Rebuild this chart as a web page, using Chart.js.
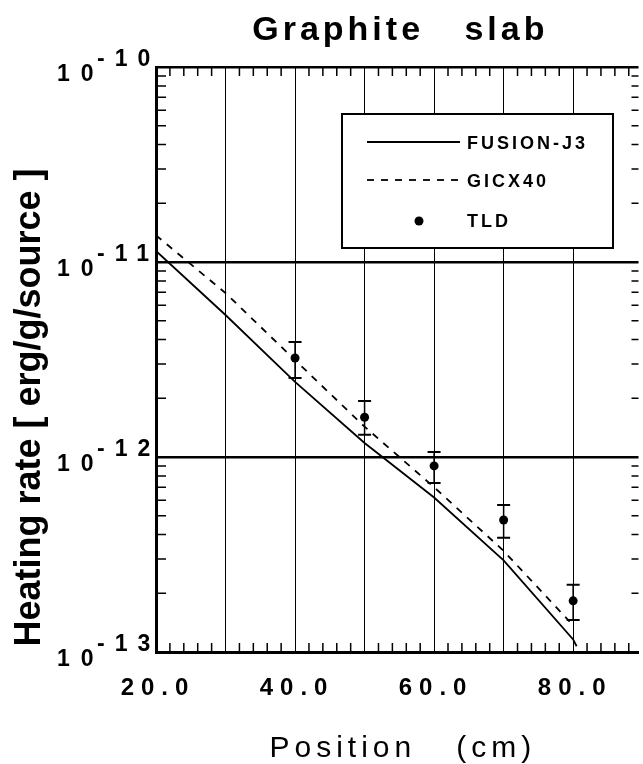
<!DOCTYPE html>
<html>
<head>
<meta charset="utf-8">
<title>Graphite slab</title>
<script src="https://cdn.jsdelivr.net/npm/chart.js@4"></script>
<style>
    html, body { margin: 0; padding: 0; background: #fff; }
    #box { width: 643px; height: 764px; position: relative; }
</style>
</head>
<body>
<div id="box"><canvas id="grafico"></canvas></div>
<script>
// Values (position in cm, heating rate in erg/g/source)
const fusionX = [20, 30, 40, 50, 60, 70, 80, 80.5];
const fusionY = [1.14e-11, 5.35e-12, 2.43e-12, 1.18e-12, 6.2e-13, 2.95e-13, 1.16e-13, 1.07e-13];

const gicxX = [20, 30, 40, 50, 60, 70, 79.5];
const gicxY = [1.37e-11, 6.93e-12, 3.14e-12, 1.43e-12, 7.0e-13, 3.3e-13, 1.43e-13];

const tldX = [40, 50, 60, 70, 80];
const tldY = [3.22e-12, 1.60e-12, 9.0e-13, 4.75e-13, 1.83e-13];
const tldHigh = [3.89e-12, 1.94e-12, 1.06e-12, 5.68e-13, 2.21e-13];
const tldLow = [2.54e-12, 1.30e-12, 7.36e-13, 3.85e-13, 1.46e-13];

const seriesLabels = ['FUSION-J3', 'GICX40', 'TLD'];

const xTickValues = [20, 40, 60, 80];
const xTickLabels = ['20.0', '40.0', '60.0', '80.0'];
const yDecades = [-10, -11, -12, -13];
const yTickLabels = ['-10', '-11', '-12', '-13'];

const FONT = '"Liberation Sans", Arial, Helvetica, sans-serif';

function pontos(xs, ys) {
    return xs.map((x, i) => ({ x: x, y: ys[i] }));
}

function isDecade(v) {
    const l = Math.log10(v);
    return Math.abs(l - Math.round(l)) < 1e-6;
}

// Error bars of the TLD measurements
function drawErrorBars(chart) {
    const ctx = chart.ctx;
    const xs = chart.scales.x;
    const ys = chart.scales.y;
    ctx.save();
    ctx.strokeStyle = '#000';
    tldX.forEach((x, i) => {
        const px = xs.getPixelForValue(x);
        const top = ys.getPixelForValue(tldHigh[i]);
        const bot = ys.getPixelForValue(tldLow[i]);
        ctx.lineWidth = 1.5;
        ctx.beginPath();
        ctx.moveTo(px, top);
        ctx.lineTo(px, bot);
        ctx.stroke();
        ctx.lineWidth = 2;
        ctx.beginPath();
        ctx.moveTo(px - 6.5, top);
        ctx.lineTo(px + 6.5, top);
        ctx.moveTo(px - 6.5, bot);
        ctx.lineTo(px + 6.5, bot);
        ctx.stroke();
    });
    ctx.restore();
}

// Small inward ticks on all four sides
function drawMinorTicks(chart) {
    const ctx = chart.ctx;
    const area = chart.chartArea;
    const xs = chart.scales.x;
    const ys = chart.scales.y;
    ctx.save();
    ctx.strokeStyle = '#000';
    ctx.lineWidth = 1.5;
    ctx.beginPath();
    for (let v = xs.min + 2; v < xs.max; v += 2) {
        if (v % 10 === 0) continue;
        const px = xs.getPixelForValue(v);
        ctx.moveTo(px, area.top);
        ctx.lineTo(px, area.top + 9);
        ctx.moveTo(px, area.bottom);
        ctx.lineTo(px, area.bottom - 9);
    }
    for (let k = -13; k < -10; k++) {
        for (let m = 2; m <= 9; m++) {
            const py = ys.getPixelForValue(m * Math.pow(10, k));
            ctx.moveTo(area.left, py);
            ctx.lineTo(area.left + 10, py);
            ctx.moveTo(area.right, py);
            ctx.lineTo(area.right - 7, py);
        }
    }
    ctx.stroke();
    ctx.restore();
}

// Tick labels, titles
function drawTexts(chart) {
    const ctx = chart.ctx;
    const area = chart.chartArea;
    const xs = chart.scales.x;
    const ys = chart.scales.y;
    const centro = (area.left + xs.getPixelForValue(90)) / 2;
    ctx.save();
    ctx.fillStyle = '#000';
    ctx.textBaseline = 'alphabetic';

    // x tick labels
    ctx.font = 'bold 24px ' + FONT;
    ctx.letterSpacing = '7px';
    ctx.textAlign = 'center';
    xTickValues.forEach((v, i) => {
        ctx.fillText(xTickLabels[i], xs.getPixelForValue(v) + 2, 695);
    });

    // y tick labels 10^-n
    ctx.textAlign = 'left';
    ctx.font = 'bold 23px ' + FONT;
    yDecades.forEach((d, i) => {
        const py = ys.getPixelForValue(Math.pow(10, d));
        ctx.letterSpacing = '11px';
        ctx.fillText('10', 57, py + 14);
        ctx.letterSpacing = '10px';
        ctx.fillText(yTickLabels[i], 97, py - 1);
    });

    // title
    ctx.font = 'bold 34px ' + FONT;
    ctx.letterSpacing = '4px';
    ctx.textAlign = 'center';
    ctx.fillText('Graphite   slab', centro + 1, 40);

    // x axis title
    ctx.font = '30px ' + FONT;
    ctx.letterSpacing = '5px';
    ctx.fillText('Position   (cm)', centro + 3.5, 757);

    // y axis title
    ctx.save();
    ctx.translate(40, (area.top + area.bottom) / 2 + 48);
    ctx.rotate(-Math.PI / 2);
    ctx.font = 'bold 36px ' + FONT;
    ctx.letterSpacing = '0px';
    ctx.fillText('Heating rate [ erg/g/source ]', 0, 0);
    ctx.restore();
    ctx.restore();
}

// Legend box drawn inside the plot
function drawLegendBox(chart) {
    const ctx = chart.ctx;
    ctx.save();
    ctx.fillStyle = '#fff';
    ctx.fillRect(342, 114, 271, 134);
    ctx.strokeStyle = '#000';
    ctx.lineWidth = 2;
    ctx.strokeRect(342, 114, 271, 134);

    ctx.lineWidth = 1.8;
    ctx.beginPath();
    ctx.moveTo(367, 142);
    ctx.lineTo(460, 142);
    ctx.stroke();

    ctx.setLineDash([7, 7]);
    ctx.beginPath();
    ctx.moveTo(367, 180);
    ctx.lineTo(458, 180);
    ctx.stroke();
    ctx.setLineDash([]);

    ctx.fillStyle = '#000';
    ctx.beginPath();
    ctx.arc(419, 221, 4.5, 0, Math.PI * 2);
    ctx.fill();

    ctx.font = 'bold 18px ' + FONT;
    ctx.letterSpacing = '3px';
    ctx.textAlign = 'left';
    ctx.fillText(seriesLabels[0], 467, 149);
    ctx.fillText(seriesLabels[1], 467, 187);
    ctx.fillText(seriesLabels[2], 467, 227);
    ctx.restore();
}

const decorPlugin = {
    id: 'decor',
    afterDatasetsDraw(chart) {
        drawErrorBars(chart);
    },
    afterDraw(chart) {
        drawMinorTicks(chart);
        drawTexts(chart);
        drawLegendBox(chart);
    }
};

function inicializarGrafico() {
    const ctx = document.getElementById('grafico');
    new Chart(ctx, {
        type: 'line',
        data: {
            datasets: [
                {
                    label: seriesLabels[0],
                    data: pontos(fusionX, fusionY),
                    borderColor: '#000',
                    borderWidth: 1.8,
                    pointRadius: 0,
                    tension: 0,
                    fill: false
                },
                {
                    label: seriesLabels[1],
                    data: pontos(gicxX, gicxY),
                    borderColor: '#000',
                    borderWidth: 1.8,
                    borderDash: [7, 7],
                    pointRadius: 0,
                    tension: 0,
                    fill: false
                },
                {
                    type: 'scatter',
                    label: seriesLabels[2],
                    data: pontos(tldX, tldY),
                    showLine: false,
                    pointRadius: 4.5,
                    pointBackgroundColor: '#000',
                    pointBorderColor: '#000',
                    pointBorderWidth: 0
                }
            ]
        },
        options: {
            responsive: true,
            maintainAspectRatio: false,
            animation: false,
            layout: {
                padding: { left: 156, top: 67, right: 0, bottom: 112 }
            },
            plugins: {
                legend: { display: false },
                title: { display: false },
                tooltip: { enabled: false }
            },
            scales: {
                x: {
                    type: 'linear',
                    min: 20,
                    max: 89.4,
                    ticks: { display: false, stepSize: 10, includeBounds: false },
                    grid: {
                        drawTicks: false,
                        color: '#000',
                        lineWidth: 1
                    },
                    border: { display: true, color: '#000', width: 3 }
                },
                y: {
                    type: 'logarithmic',
                    min: 1e-13,
                    max: 1e-10,
                    ticks: { display: false },
                    grid: {
                        drawTicks: false,
                        color: '#000',
                        lineWidth: function(c) {
                            if (!c.tick || !isDecade(c.tick.value)) return 0;
                            return 2.5;
                        }
                    },
                    border: { display: true, color: '#000', width: 3 }
                }
            }
        },
        plugins: [decorPlugin]
    });
}

document.addEventListener('DOMContentLoaded', function() {
    inicializarGrafico();
});
</script>
</body>
</html>
